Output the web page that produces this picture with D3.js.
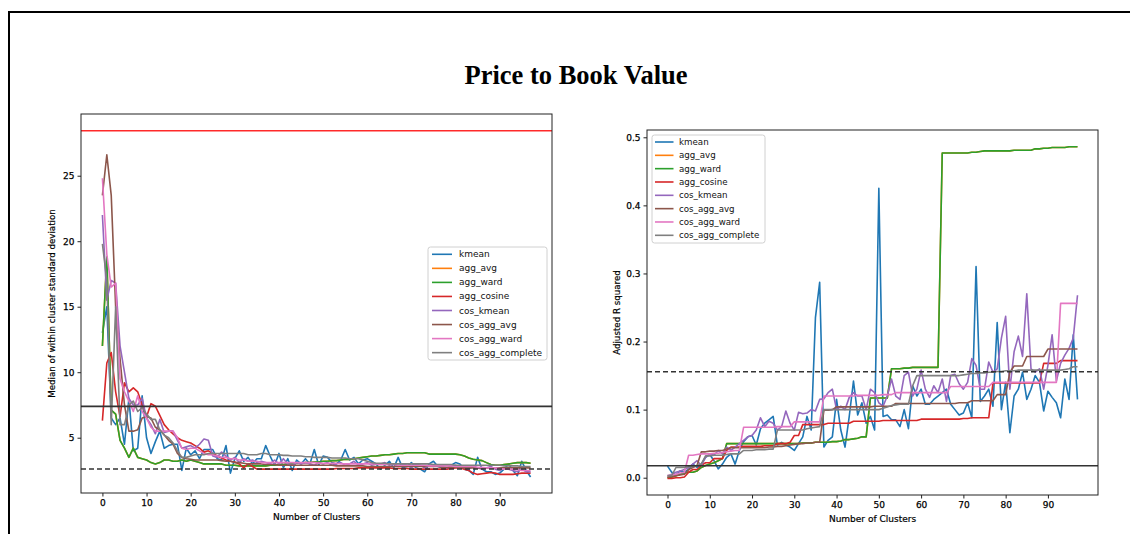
<!DOCTYPE html>
<html><head><meta charset="utf-8">
<script src="https://cdnjs.cloudflare.com/ajax/libs/d3/7.8.5/d3.min.js"></script>
<style>body{margin:0;background:#fff;}svg{display:block;}</style>
</head><body>
<svg id="chart" width="1130" height="534"></svg>
<script>
// ---------- DATA ----------
const title = "Price to Book Value";
const seriesNames = ["kmean","agg_avg","agg_ward","agg_cosine","cos_kmean","cos_agg_avg","cos_agg_ward","cos_agg_complete"];
const seriesColors = ["#1f77b4","#ff7f0e","#2ca02c","#d62728","#9467bd","#8c564b","#e377c2","#7f7f7f"];
const xTicks = [0,10,20,30,40,50,60,70,80,90];
const leftYTicks = [5,10,15,20,25];
const rightYTicks = [0.0,0.1,0.2,0.3,0.4,0.5];
const leftYLabel = "Median of within cluster standard deviation";
const rightYLabel = "Adjusted R squared";
const xLabel = "Number of Clusters";
const leftRefRed = 28.43, leftRefSolid = 7.39, leftRefDashed = 2.61;
const rightRefDashed = 0.1557, rightRefSolid = 0.0176;

// Left panel: median within-cluster std dev (x = 0..97)
const kmeanL = [
13.0,15.0,6.5,6.0,6.5,4.5,8.0,4.0,4.2,8.2,
5.0,3.8,4.7,5.5,4.2,4.4,4.5,4.5,2.5,4.2,
3.7,4.0,3.4,4.1,4.1,4.1,3.4,3.3,4.4,2.3,
3.4,4.0,3.2,3.5,3.0,3.4,3.4,4.4,3.6,2.9,
3.8,2.7,3.4,2.5,3.3,3.0,3.4,3.0,4.1,2.9,
3.6,3.5,3.1,3.0,3.3,4.1,3.3,3.5,3.0,3.3,
3.4,3.2,3.0,2.6,2.9,3.2,2.7,3.5,2.7,2.8,
3.1,2.7,2.6,2.4,3.0,3.2,2.8,2.7,2.6,2.9,
3.1,3.0,2.6,2.5,2.2,3.5,2.6,2.4,2.4,2.2,
2.3,2.6,3.0,2.5,2.1,3.2,2.5,2.0];
const aggAvgL = [
12.0,18.8,7.1,6.8,4.8,4.2,3.5,4.2,3.5,3.4,
3.3,3.1,3.0,3.1,3.3,3.3,3.2,3.2,3.3,3.2,
3.3,3.2,3.1,3.0,3.0,3.0,3.0,3.0,2.9,2.9,
2.9,2.85,2.85,2.85,2.85,2.85,2.85,2.85,2.9,2.9,
2.95,2.95,3.0,3.0,3.05,3.05,3.1,3.1,3.15,3.15,
3.2,3.2,3.25,3.25,3.3,3.35,3.35,3.4,3.45,3.5,
3.55,3.6,3.6,3.65,3.7,3.7,3.75,3.8,3.8,3.85,
3.85,3.85,3.85,3.85,3.75,3.75,3.75,3.75,3.75,3.75,
3.75,3.7,3.6,3.45,3.35,3.3,3.25,3.1,2.95,2.9,
2.9,2.95,3.0,3.05,3.1,3.1,3.1,3.05];
const aggWardL = [
12.0,18.8,7.1,6.8,4.8,4.2,3.5,4.2,3.5,3.4,
3.3,3.1,3.0,3.1,3.3,3.3,3.2,3.2,3.3,3.2,
3.3,3.2,3.1,3.0,3.0,3.0,3.0,3.0,2.9,2.9,
2.9,2.85,2.85,2.85,2.85,2.85,2.85,2.85,2.9,2.9,
2.95,2.95,3.0,3.0,3.05,3.05,3.1,3.1,3.15,3.15,
3.2,3.2,3.25,3.25,3.3,3.35,3.35,3.4,3.45,3.5,
3.55,3.6,3.6,3.65,3.7,3.7,3.75,3.8,3.8,3.85,
3.85,3.85,3.85,3.85,3.75,3.75,3.75,3.75,3.75,3.75,
3.75,3.7,3.6,3.45,3.35,3.3,3.25,3.1,2.95,2.9,
2.9,2.95,3.0,3.05,3.1,3.1,3.1,3.05];
const aggCosineL = [
6.3,10.7,11.5,8.5,6.6,9.2,8.5,8.8,8.5,7.5,
6.6,7.6,7.4,6.7,6.0,5.6,5.3,5.0,4.8,4.7,
4.6,4.4,4.2,3.9,4.0,3.8,3.6,3.45,3.3,3.2,
3.15,3.0,2.7,3.0,2.8,2.6,2.6,2.6,2.6,2.6,
2.6,2.6,2.6,2.6,2.6,2.6,2.6,2.6,2.6,2.6,
2.6,2.6,2.6,2.65,2.65,2.65,2.65,2.65,2.7,2.7,
2.7,2.7,2.7,2.7,2.7,2.7,2.65,2.65,2.65,2.65,
2.6,2.6,2.6,2.6,2.6,2.6,2.6,2.6,2.6,2.65,
2.7,2.7,2.6,2.5,2.3,2.2,2.25,2.3,2.35,2.3,
2.2,2.2,2.2,2.2,2.25,2.3,2.3,2.3];
const cosKmeanL = [
22.0,15.5,17.0,16.8,12.0,10.0,8.0,7.5,7.5,8.0,
6.5,6.0,5.3,6.4,5.4,5.5,5.5,4.8,4.2,4.3,
4.4,4.2,4.5,4.9,4.8,3.6,3.5,3.9,3.6,3.3,
3.5,3.1,3.4,3.2,3.3,3.1,3.2,3.1,3.0,3.3,
3.0,3.4,3.0,2.9,3.1,3.0,3.1,3.0,2.9,3.1,
3.0,3.1,2.9,3.0,3.1,2.9,3.0,3.2,2.9,3.0,
3.1,2.9,3.0,3.0,3.1,2.9,3.0,2.8,3.0,2.9,
2.7,3.0,2.9,2.7,2.9,2.8,2.9,2.8,2.7,2.8,
2.9,2.7,2.8,2.6,2.8,2.7,2.6,2.7,2.8,2.6,
2.5,2.7,2.6,2.5,2.4,2.6,2.4,2.4];
const cosAggAvgL = [
23.5,26.6,23.5,15.0,11.0,7.5,5.5,5.5,5.6,6.5,
6.6,6.5,5.8,5.6,5.2,4.8,4.5,3.8,3.5,3.4,
3.35,3.3,3.3,3.3,3.3,3.3,3.3,3.25,3.2,3.2,
3.1,3.1,3.05,3.0,3.0,3.0,3.0,2.95,2.95,2.95,
2.9,2.9,2.9,2.9,2.9,2.9,2.9,2.9,2.9,2.9,
2.9,2.9,2.9,2.85,2.85,2.85,2.85,2.85,2.85,2.85,
2.8,2.8,2.8,2.8,2.8,2.8,2.8,2.8,2.8,2.8,
2.8,2.8,2.8,2.8,2.8,2.8,2.8,2.75,2.75,2.75,
2.75,2.75,2.7,2.7,2.7,2.7,2.7,2.7,2.7,2.7,
2.7,2.7,2.7,2.7,2.7,2.7,2.7,2.7];
const cosAggWardL = [
24.8,19.0,16.5,16.8,9.5,8.5,7.8,7.0,8.2,7.0,
6.5,5.8,5.5,5.5,5.5,5.5,5.5,5.0,4.2,4.1,
4.2,4.2,4.0,3.8,3.7,3.7,3.6,3.5,3.5,3.4,
3.4,3.3,3.3,3.2,3.2,3.2,3.1,3.1,3.1,3.1,
3.1,3.1,3.1,3.1,3.1,3.1,3.1,3.1,3.1,3.05,
3.05,3.05,3.05,3.05,3.0,3.0,3.0,3.0,3.0,3.0,
3.0,3.0,3.0,2.95,2.95,2.95,2.95,2.9,2.9,2.9,
2.9,2.9,2.9,2.9,2.85,2.85,2.85,2.85,2.85,2.85,
2.8,2.8,2.8,2.8,2.8,2.75,2.75,2.7,2.7,2.7,
2.65,2.6,2.6,2.6,2.55,2.5,2.5,2.5];
const cosAggCompleteL = [
19.8,17.0,6.0,15.0,6.0,6.0,7.5,7.8,7.0,7.3,
6.8,6.4,6.4,5.6,5.2,5.0,4.6,4.0,3.5,3.5,
3.6,3.7,3.7,3.7,3.8,3.8,3.8,3.8,3.8,3.8,
3.8,3.8,3.8,3.7,3.7,3.7,3.8,3.8,3.7,3.7,
3.7,3.65,3.65,3.6,3.6,3.6,3.55,3.55,3.5,3.5,
3.5,3.5,3.45,3.45,3.45,3.45,3.4,3.4,3.4,3.3,
3.2,3.1,3.05,3.05,3.05,3.0,3.0,3.0,3.0,3.0,
3.0,3.0,3.0,3.0,3.0,2.95,2.95,2.95,2.95,2.95,
2.9,2.9,2.9,2.9,2.9,2.9,2.9,2.9,2.9,2.9,
2.9,2.85,2.85,2.85,2.85,2.8,2.8,2.8];

// Right panel: adjusted R squared (x = 0..97)
const kmeanR = [
0.017,0.008,0.004,0.010,0.008,0.012,0.020,0.015,0.020,0.030,
0.034,0.025,0.013,0.020,0.030,0.035,0.020,0.040,0.053,0.060,
0.062,0.048,0.072,0.080,0.085,0.090,0.048,0.052,0.048,0.045,
0.040,0.050,0.060,0.090,0.070,0.235,0.287,0.045,0.055,0.060,
0.115,0.070,0.045,0.090,0.142,0.092,0.110,0.080,0.090,0.070,
0.425,0.090,0.092,0.085,0.085,0.075,0.100,0.072,0.135,0.120,
0.130,0.108,0.108,0.115,0.120,0.125,0.130,0.108,0.100,0.092,
0.095,0.110,0.088,0.310,0.112,0.120,0.130,0.105,0.228,0.100,
0.140,0.066,0.120,0.130,0.155,0.115,0.130,0.150,0.140,0.098,
0.127,0.118,0.110,0.088,0.145,0.115,0.210,0.115];
const aggAvgR = [
0.000,0.001,0.003,0.005,0.007,0.008,0.008,0.010,0.015,0.018,
0.020,0.022,0.025,0.028,0.050,0.050,0.050,0.050,0.050,0.050,
0.050,0.050,0.050,0.050,0.050,0.050,0.050,0.050,0.050,0.050,
0.050,0.050,0.051,0.051,0.051,0.052,0.052,0.052,0.052,0.053,
0.053,0.054,0.056,0.056,0.057,0.058,0.060,0.060,0.117,0.117,
0.117,0.117,0.117,0.160,0.160,0.160,0.161,0.161,0.162,0.162,
0.162,0.162,0.162,0.162,0.162,0.477,0.477,0.477,0.477,0.477,
0.477,0.477,0.478,0.478,0.479,0.480,0.480,0.480,0.480,0.480,
0.480,0.480,0.481,0.481,0.481,0.481,0.481,0.483,0.483,0.484,
0.484,0.485,0.485,0.485,0.485,0.486,0.486,0.486];
const aggWardR = [
0.000,0.001,0.003,0.005,0.007,0.008,0.008,0.010,0.015,0.018,
0.020,0.022,0.025,0.028,0.050,0.050,0.050,0.050,0.050,0.050,
0.050,0.050,0.050,0.050,0.050,0.050,0.050,0.050,0.050,0.050,
0.050,0.050,0.051,0.051,0.051,0.052,0.052,0.052,0.052,0.053,
0.053,0.054,0.056,0.056,0.057,0.058,0.060,0.060,0.117,0.117,
0.117,0.117,0.117,0.160,0.160,0.160,0.161,0.161,0.162,0.162,
0.162,0.162,0.162,0.162,0.162,0.477,0.477,0.477,0.477,0.477,
0.477,0.477,0.478,0.478,0.479,0.480,0.480,0.480,0.480,0.480,
0.480,0.480,0.481,0.481,0.481,0.481,0.481,0.483,0.483,0.484,
0.484,0.485,0.485,0.485,0.485,0.486,0.486,0.486];
const aggCosineR = [
-0.001,-0.001,0.000,0.000,0.001,0.008,0.012,0.012,0.018,0.022,
0.022,0.028,0.028,0.028,0.040,0.045,0.045,0.045,0.046,0.046,
0.046,0.046,0.046,0.047,0.047,0.047,0.050,0.050,0.050,0.052,
0.062,0.062,0.078,0.078,0.078,0.078,0.078,0.078,0.080,0.080,
0.080,0.080,0.080,0.080,0.083,0.083,0.083,0.083,0.083,0.083,
0.083,0.084,0.084,0.084,0.084,0.084,0.084,0.084,0.084,0.084,
0.086,0.086,0.086,0.086,0.086,0.086,0.086,0.086,0.086,0.086,
0.087,0.087,0.088,0.088,0.088,0.088,0.088,0.139,0.139,0.139,
0.139,0.139,0.139,0.139,0.139,0.139,0.139,0.139,0.139,0.168,
0.168,0.168,0.168,0.172,0.172,0.172,0.172,0.172];
const cosKmeanR = [
0.002,0.005,0.008,0.010,0.012,0.015,0.020,0.025,0.018,0.030,
0.035,0.033,0.040,0.035,0.045,0.040,0.045,0.050,0.055,0.060,
0.062,0.070,0.088,0.075,0.083,0.080,0.070,0.075,0.098,0.080,
0.070,0.096,0.094,0.095,0.100,0.098,0.115,0.116,0.125,0.130,
0.100,0.105,0.100,0.118,0.125,0.120,0.120,0.100,0.130,0.125,
0.110,0.105,0.120,0.145,0.120,0.115,0.150,0.155,0.120,0.130,
0.158,0.130,0.118,0.135,0.125,0.145,0.112,0.150,0.152,0.138,
0.130,0.140,0.175,0.165,0.130,0.130,0.170,0.155,0.160,0.205,
0.237,0.130,0.185,0.208,0.178,0.270,0.160,0.155,0.160,0.130,
0.165,0.210,0.142,0.168,0.180,0.190,0.205,0.268];
const cosAggAvgR = [
0.001,0.002,0.003,0.004,0.005,0.012,0.015,0.018,0.038,0.038,
0.039,0.039,0.040,0.040,0.042,0.044,0.044,0.044,0.044,0.044,
0.044,0.044,0.044,0.044,0.045,0.045,0.046,0.046,0.047,0.048,
0.049,0.050,0.050,0.051,0.051,0.052,0.052,0.099,0.099,0.100,
0.104,0.104,0.104,0.104,0.104,0.104,0.104,0.104,0.104,0.105,
0.105,0.105,0.105,0.105,0.109,0.109,0.109,0.109,0.109,0.109,
0.109,0.109,0.109,0.109,0.109,0.109,0.109,0.109,0.109,0.110,
0.110,0.110,0.113,0.113,0.113,0.113,0.113,0.113,0.122,0.122,
0.122,0.155,0.164,0.164,0.164,0.178,0.178,0.178,0.178,0.178,
0.189,0.189,0.189,0.189,0.189,0.189,0.189,0.189];
const cosAggWardR = [
0.003,0.004,0.005,0.007,0.008,0.033,0.033,0.034,0.035,0.035,
0.035,0.036,0.036,0.037,0.038,0.039,0.040,0.040,0.074,0.074,
0.074,0.074,0.074,0.074,0.074,0.074,0.075,0.075,0.075,0.075,
0.082,0.082,0.082,0.082,0.082,0.082,0.082,0.120,0.120,0.120,
0.120,0.120,0.120,0.120,0.120,0.121,0.121,0.121,0.121,0.121,
0.121,0.122,0.122,0.122,0.125,0.125,0.125,0.125,0.125,0.125,
0.125,0.125,0.125,0.125,0.125,0.125,0.125,0.134,0.134,0.134,
0.134,0.134,0.134,0.134,0.134,0.134,0.134,0.140,0.140,0.140,
0.140,0.140,0.140,0.140,0.140,0.140,0.140,0.140,0.140,0.140,
0.140,0.140,0.140,0.256,0.256,0.256,0.256,0.256];
const cosAggCompleteR = [
0.003,0.003,0.015,0.015,0.015,0.016,0.016,0.018,0.020,0.032,
0.032,0.033,0.033,0.033,0.034,0.035,0.035,0.035,0.040,0.040,
0.040,0.041,0.041,0.041,0.042,0.042,0.070,0.070,0.070,0.070,
0.070,0.070,0.070,0.072,0.073,0.074,0.075,0.100,0.100,0.100,
0.100,0.100,0.100,0.100,0.100,0.100,0.100,0.100,0.100,0.100,
0.100,0.102,0.104,0.106,0.107,0.108,0.108,0.108,0.135,0.150,
0.150,0.150,0.150,0.150,0.150,0.150,0.150,0.150,0.150,0.150,
0.151,0.152,0.153,0.153,0.154,0.154,0.155,0.155,0.156,0.156,
0.157,0.157,0.157,0.158,0.158,0.158,0.158,0.158,0.158,0.158,
0.158,0.158,0.158,0.158,0.159,0.160,0.163,0.163];

const leftSeries = [kmeanL, aggAvgL, aggWardL, aggCosineL, cosKmeanL, cosAggAvgL, cosAggWardL, cosAggCompleteL];
const rightSeries = [kmeanR, aggAvgR, aggWardR, aggCosineR, cosKmeanR, cosAggAvgR, cosAggWardR, cosAggCompleteR];

// ---------- DRAW ----------
const svg = d3.select("#chart");
const FONT = "'DejaVu Sans', sans-serif";

svg.append("rect").attr("width",1130).attr("height",534).attr("fill","#fff");
// page frame
svg.append("line").attr("x1",8).attr("x2",1130).attr("y1",12).attr("y2",12).attr("stroke","#000").attr("stroke-width",2);
svg.append("line").attr("x1",9).attr("x2",9).attr("y1",12).attr("y2",534).attr("stroke","#000").attr("stroke-width",2);

svg.append("text").attr("x",576).attr("y",84).attr("text-anchor","middle")
  .attr("font-family","'Liberation Serif','Times New Roman',serif").attr("font-weight","bold")
  .attr("font-size",26.5).attr("fill","#000").text(title);

function panel(opts) {
  const {left, top, width, height, xDomain, yDomain, yTicks, yFmt, series, refs, yLabel, yLabelX, legend, id} = opts;
  const x = d3.scaleLinear().domain(xDomain).range([left, left+width]);
  const y = d3.scaleLinear().domain(yDomain).range([top+height, top]);
  const g = svg.append("g");
  g.append("clipPath").attr("id",id).append("rect").attr("x",left).attr("y",top).attr("width",width).attr("height",height);
  const plot = g.append("g").attr("clip-path",`url(#${id})`);
  const line = d3.line().x((d,i)=>x(i)).y(d=>y(d));
  series.forEach((s,k)=>{
    plot.append("path").attr("d",line(s)).attr("fill","none").attr("stroke",seriesColors[k])
      .attr("stroke-width",1.6).attr("stroke-linejoin","round");
  });
  refs.forEach(r=>{
    plot.append("line").attr("x1",left).attr("x2",left+width).attr("y1",y(r.v)).attr("y2",y(r.v))
      .attr("stroke",r.color).attr("stroke-width",1.6).attr("stroke-dasharray",r.dash||null);
  });
  // axes
  const xAxis = d3.axisBottom(x).tickValues(xTicks).tickSize(3.5).tickPadding(3);
  const yAxis = d3.axisLeft(y).tickValues(yTicks).tickSize(3.5).tickPadding(3).tickFormat(yFmt);
  const gx = g.append("g").attr("transform",`translate(0,${top+height})`).call(xAxis);
  const gy = g.append("g").attr("transform",`translate(${left},0)`).call(yAxis);
  [gx,gy].forEach(a=>{
    a.select(".domain").remove();
    a.selectAll("text").attr("font-family",FONT).attr("font-size",9).attr("fill","#000")
      .attr("stroke","#000").attr("stroke-width",0.25);
    a.selectAll("line").attr("stroke","#222");
  });
  g.append("rect").attr("x",left).attr("y",top).attr("width",width).attr("height",height)
    .attr("fill","none").attr("stroke","#222").attr("stroke-width",1);
  // labels
  g.append("text").attr("x",left+width/2).attr("y",top+height+27).attr("text-anchor","middle")
    .attr("font-family",FONT).attr("font-size",9).attr("fill","#000").attr("stroke","#000").attr("stroke-width",0.2).text(xLabel);
  g.append("text").attr("transform",`translate(${yLabelX},${top+height/2}) rotate(-90)`).attr("text-anchor","middle")
    .attr("dominant-baseline","middle").attr("font-family",FONT).attr("font-size",legend.ylfs)
    .attr("fill","#000").attr("stroke","#000").attr("stroke-width",0.2).text(yLabel);
  // legend
  const lg = g.append("g");
  lg.append("rect").attr("x",legend.x).attr("y",legend.y).attr("width",legend.w).attr("height",legend.h)
    .attr("rx",2.5).attr("fill","#fff").attr("fill-opacity",0.85).attr("stroke","#d0d0d0").attr("stroke-width",1);
  seriesNames.forEach((n,k)=>{
    const yy = legend.y0 + k*legend.dy;
    lg.append("line").attr("x1",legend.lx).attr("x2",legend.lx+legend.lw).attr("y1",yy).attr("y2",yy)
      .attr("stroke",seriesColors[k]).attr("stroke-width",1.6);
    lg.append("text").attr("x",legend.tx).attr("y",yy).attr("dominant-baseline","central")
      .attr("font-family",FONT).attr("font-size",legend.fs).attr("fill","#111").text(n);
  });
}

panel({
  id:"clipL", left:81, top:114, width:471, height:379,
  xDomain:[-4.85,101.85], yDomain:[0.78,29.71], yTicks:leftYTicks, yFmt:d3.format("d"),
  series:leftSeries,
  refs:[{v:leftRefRed,color:"#ff2a2a"},{v:leftRefSolid,color:"#333"},{v:leftRefDashed,color:"#333",dash:"5,3"}],
  yLabel:leftYLabel, yLabelX:52.5,
  legend:{x:428,y:247,w:119,h:113,y0:254.3,dy:14.05,lx:432,lw:20,tx:459,fs:9,ylfs:8.7}
});
panel({
  id:"clipR", left:647, top:130, width:451, height:365,
  xDomain:[-4.85,101.85], yDomain:[-0.0254,0.5107], yTicks:rightYTicks, yFmt:d3.format(".1f"),
  series:rightSeries,
  refs:[{v:rightRefDashed,color:"#333",dash:"5,3"},{v:rightRefSolid,color:"#333"}],
  yLabel:rightYLabel, yLabelX:617,
  legend:{x:652,y:135,w:113,h:108,y0:142,dy:13.33,lx:655,lw:18.5,tx:679,fs:8.7,ylfs:8.7}
});
</script>
</body></html>
